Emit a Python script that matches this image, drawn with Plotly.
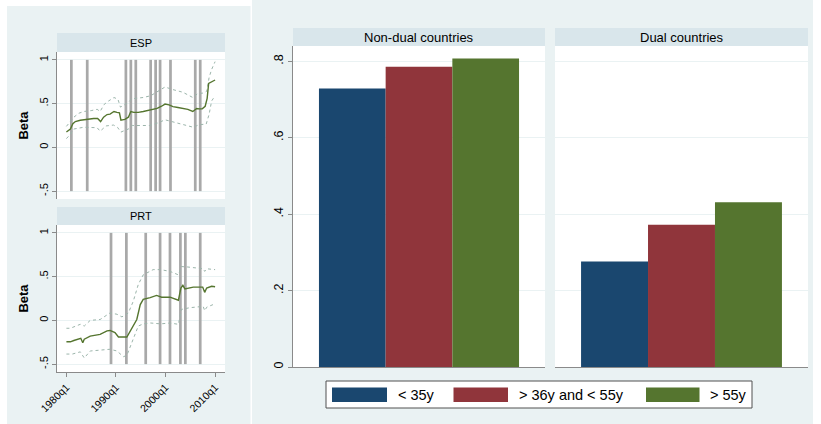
import plotly.graph_objects as go

W, H = 821, 424

# ---------------- data ----------------
# Spain: rolling beta and its confidence band (time in fractional years)
esp_beta_t = [1980.0, 1980.8, 1981.3, 1981.8, 1982.8, 1984.0, 1985.5, 1986.3, 1986.9, 1987.5,
              1988.2, 1988.8, 1989.6, 1990.2, 1990.7, 1991.0, 1991.8, 1992.5, 1993.0, 1993.6,
              1994.5, 1995.5, 1996.5, 1997.5, 1998.3, 1999.2, 1999.9, 2000.7, 2001.5, 2002.5,
              2003.5, 2004.5, 2005.5, 2006.3, 2006.8, 2007.4, 2008.0, 2008.4, 2008.7, 2009.2,
              2009.6, 2010.0]
esp_beta = [0.175, 0.21, 0.27, 0.295, 0.31, 0.32, 0.33, 0.33, 0.295, 0.345,
            0.375, 0.38, 0.41, 0.40, 0.395, 0.31, 0.32, 0.345, 0.41, 0.40,
            0.40, 0.41, 0.42, 0.43, 0.445, 0.47, 0.495, 0.485, 0.465, 0.455,
            0.445, 0.435, 0.41, 0.445, 0.44, 0.44, 0.47, 0.56, 0.73, 0.745,
            0.76, 0.77]
esp_hi_t = [1980.0, 1980.8, 1981.5, 1982.5, 1983.5, 1985.0, 1986.2, 1986.8, 1987.6, 1988.5,
            1989.6, 1990.4, 1990.9, 1991.8, 1992.6, 1993.2, 1994.5, 1995.5, 1997.0, 1998.2,
            1999.9, 2001.5, 2003.5, 2005.5, 2006.5, 2007.5, 2008.3, 2008.8, 2009.3, 2010.0]
esp_hi = [0.24, 0.29, 0.345, 0.39, 0.41, 0.42, 0.435, 0.41, 0.49, 0.53,
          0.57, 0.55, 0.46, 0.49, 0.52, 0.555, 0.56, 0.57, 0.59, 0.63,
          0.69, 0.66, 0.63, 0.57, 0.615, 0.62, 0.64, 0.80, 0.89, 0.98]
esp_lo_t = [1980.0, 1980.8, 1981.5, 1983.5, 1986.2, 1986.8, 1988.0, 1989.5, 1990.3, 1991.0,
            1992.5, 1993.3, 1996.8, 1998.5, 1999.9, 2001.5, 2005.6, 2006.8, 2008.2, 2008.8,
            2009.3, 2010.0]
esp_lo = [0.10, 0.15, 0.21, 0.23, 0.225, 0.185, 0.245, 0.255, 0.23, 0.175,
          0.21, 0.25, 0.25, 0.28, 0.315, 0.29, 0.23, 0.26, 0.265, 0.38,
          0.53, 0.59]
esp_events = [1981.0, 1984.2, 1992.0, 1993.0, 1994.0, 1997.0, 1998.0, 1998.9, 2001.0, 2006.0, 2007.0]

# Portugal
prt_beta_t = [1980.0, 1980.8, 1981.5, 1982.2, 1982.9, 1983.3, 1983.6, 1984.8, 1986.8, 1988.2,
              1988.8, 1989.8, 1990.5, 1992.2, 1993.2, 1994.2, 1994.9, 1995.5, 1996.9, 1998.2,
              1999.2, 2000.9, 2002.6, 2003.1, 2003.5, 2003.9, 2005.6, 2007.5, 2007.9, 2008.3,
              2009.3, 2010.0]
prt_beta = [-0.245, -0.245, -0.23, -0.215, -0.205, -0.255, -0.215, -0.18, -0.16, -0.12,
            -0.115, -0.14, -0.19, -0.19, -0.085, 0.01, 0.18, 0.24, 0.26, 0.285,
            0.265, 0.265, 0.23, 0.37, 0.40, 0.36, 0.38, 0.38, 0.32, 0.37,
            0.39, 0.385]
prt_hi_t = [1980.0, 1980.8, 1982.8, 1983.6, 1984.8, 1986.8, 1988.8, 1990.2, 1991.2, 1992.5,
            1993.5, 1994.5, 1995.5, 1997.5, 1999.0, 2000.9, 2002.6, 2003.2, 2004.5, 2007.6,
            2007.9, 2008.3, 2010.0]
prt_hi = [-0.09, -0.09, -0.045, -0.065, 0.0, 0.01, 0.085, 0.07, 0.04, 0.085,
          0.22, 0.41, 0.52, 0.58, 0.58, 0.56, 0.52, 0.615, 0.61, 0.59,
          0.56, 0.59, 0.58]
prt_lo_t = [1980.0, 1981.2, 1982.8, 1983.6, 1984.8, 1986.8, 1988.8, 1990.2, 1991.5, 1992.2,
            1993.5, 1994.5, 1995.5, 1997.0, 1999.0, 2000.9, 2002.6, 2003.2, 2004.9, 2007.6,
            2007.9, 2008.3, 2010.0]
prt_lo = [-0.385, -0.385, -0.36, -0.43, -0.35, -0.34, -0.33, -0.35, -0.415, -0.40,
          -0.20, -0.065, -0.04, -0.03, -0.04, -0.03, -0.045, 0.125, 0.145, 0.16,
          0.11, 0.15, 0.19]
prt_events = [1989.0, 1992.1, 1996.0, 1998.9, 2000.9, 2003.0, 2004.0, 2007.0]

ts_ticks = [1980, 1990, 2000, 2010]
ts_ticktext = ["1980q1", "1990q1", "2000q1", "2010q1"]
beta_ticks = [-0.5, 0, 0.5, 1]
beta_ticktext = ["-.5", "0", ".5", "1"]

# Bar chart: beta by age group
panels = ["Non-dual countries", "Dual countries"]
age_groups = ["< 35y", "> 36y and < 55y", "> 55y"]
nondual_beta = [0.729, 0.786, 0.807]
dual_beta = [0.276, 0.372, 0.431]
bar_ticks = [0, 0.2, 0.4, 0.6, 0.8]
bar_ticktext = ["0", ".2", ".4", ".6", ".8"]

# ---------------- styling ----------------
FONT = "Liberation Sans, Arial, Helvetica, sans-serif"
BG = "#eaf2f3"
STRIP = "#d9e6eb"
GRID = "#eaf2f3"
AXIS = "#8a8a8a"
AGE_COLORS = ["#1a476f", "#90353b", "#55752f"]
LINE_GREEN = "#55752f"
CI_COLOR = "#9cb5ab"
EVENT_GRAY = "#a9a9a9"


def fx(p):
    return p / W


def fy(p):
    return 1 - p / H


fig = go.Figure()

# --- time series panels ---
for ax, (events, bt, b, ht, h, lt, l) in zip(
    ["", "2"],
    [(esp_events, esp_beta_t, esp_beta, esp_hi_t, esp_hi, esp_lo_t, esp_lo),
     (prt_events, prt_beta_t, prt_beta, prt_hi_t, prt_hi, prt_lo_t, prt_lo)]):
    xa, ya = "x" + ax, "y" + ax
    fig.add_trace(go.Bar(x=events, y=[1.5] * len(events), base=-0.5, width=0.55,
                         marker=dict(color=EVENT_GRAY, line=dict(width=0)),
                         xaxis=xa, yaxis=ya, showlegend=False, hoverinfo="skip"))
    for t, v in [(ht, h), (lt, l)]:
        fig.add_trace(go.Scatter(x=t, y=v, mode="lines", xaxis=xa, yaxis=ya,
                                 line=dict(color=CI_COLOR, width=1, dash="dot"),
                                 showlegend=False))
    fig.add_trace(go.Scatter(x=bt, y=b, mode="lines", xaxis=xa, yaxis=ya,
                             line=dict(color=LINE_GREEN, width=1.4),
                             showlegend=False))

# --- bar panels ---
for ax, panel, vals in [("3", panels[0], nondual_beta), ("4", panels[1], dual_beta)]:
    for name, v, c in zip(age_groups, vals, AGE_COLORS):
        fig.add_trace(go.Bar(x=[panel], y=[v], name=name, xaxis="x" + ax, yaxis="y" + ax,
                             marker=dict(color=c, line=dict(width=0)),
                             showlegend=False))

ts_x_range = [1978.1, 2012.0]
beta_range = [-0.59, 1.09]
tick_font = dict(family=FONT, size=11, color="#000000")

common_ts_y = dict(range=beta_range, tickvals=beta_ticks, ticktext=beta_ticktext,
                   tickangle=-90, ticks="outside", ticklen=4, tickcolor=AXIS,
                   showline=True, linecolor=AXIS, linewidth=1,
                   showgrid=True, gridcolor=GRID, gridwidth=1, zeroline=False,
                   tickfont=tick_font, automargin=False,
                   title=dict(text="<b>Beta</b>", font=dict(family=FONT, size=13, color="#000"),
                              standoff=6))

fig.update_layout(
    width=W, height=H, margin=dict(l=0, r=0, t=0, b=0),
    paper_bgcolor="white", plot_bgcolor="white",
    barmode="group", bargap=0.206, bargroupgap=0,
    showlegend=False, font=dict(family=FONT, color="#000"),
    xaxis=dict(domain=[fx(57), fx(225)], range=ts_x_range, anchor="y",
               showticklabels=False, ticks="", showline=False, showgrid=False,
               zeroline=False, automargin=False),
    yaxis=dict(domain=[fy(199), fy(52)], anchor="x", **common_ts_y),
    xaxis2=dict(domain=[fx(57), fx(225)], range=ts_x_range, anchor="y2",
                tickvals=ts_ticks, ticktext=ts_ticktext, tickangle=-45,
                ticks="outside", ticklen=4, tickcolor=AXIS,
                showline=True, linecolor=AXIS, linewidth=1,
                showgrid=False, zeroline=False, tickfont=dict(family=FONT, size=10.5, color="#000"),
                automargin=False),
    yaxis2=dict(domain=[fy(372), fy(225)], anchor="x2", **common_ts_y),
    xaxis3=dict(domain=[fx(293), fx(545)], anchor="y3", showticklabels=False, ticks="",
                showline=True, linecolor=AXIS, linewidth=1.2, showgrid=False,
                automargin=False),
    yaxis3=dict(domain=[fy(367), fy(46)], anchor="x3", range=[0, 0.84],
                tickvals=bar_ticks, ticktext=bar_ticktext, tickangle=-90,
                ticks="outside", ticklen=4, tickcolor=AXIS,
                showline=True, linecolor=AXIS, linewidth=1.2,
                showgrid=True, gridcolor=GRID, zeroline=False,
                tickfont=dict(family=FONT, size=12.5, color="#000"), automargin=False),
    xaxis4=dict(domain=[fx(555), fx(808)], anchor="y4", showticklabels=False, ticks="",
                showline=True, linecolor=AXIS, linewidth=1.2, showgrid=False,
                automargin=False),
    yaxis4=dict(domain=[fy(367), fy(46)], anchor="x4", range=[0, 0.84],
                tickvals=bar_ticks, showticklabels=False, ticks="",
                showline=False, showgrid=True, gridcolor=GRID, zeroline=False,
                automargin=False),
)

shapes = []
# graph regions (light background)
shapes.append(dict(type="rect", xref="paper", yref="paper", x0=fx(7), x1=fx(250.5),
                   y0=fy(424), y1=fy(6), fillcolor=BG, line=dict(width=0), layer="below"))
shapes.append(dict(type="rect", xref="paper", yref="paper", x0=fx(252), x1=fx(813),
                   y0=fy(424), y1=fy(0), fillcolor=BG, line=dict(width=0), layer="below"))
# white plot regions
for ax in ["", "2", "3", "4"]:
    shapes.append(dict(type="rect", xref="x" + ax + " domain", yref="y" + ax + " domain",
                       x0=0, x1=1, y0=0, y1=1, fillcolor="white", line=dict(width=0),
                       layer="below"))

annotations = []
# panel title strips
strips = [
    (57, 225, 33, 52, "ESP", 11),
    (57, 225, 207, 225, "PRT", 11),
    (293, 545, 28, 46, panels[0], 13),
    (555, 808, 28, 46, panels[1], 13),
]
for x0, x1, y0, y1, text, size in strips:
    shapes.append(dict(type="rect", xref="paper", yref="paper", x0=fx(x0), x1=fx(x1),
                       y0=fy(y1), y1=fy(y0), fillcolor=STRIP, line=dict(width=0),
                       layer="below"))
    annotations.append(dict(xref="paper", yref="paper", x=fx((x0 + x1) / 2),
                            y=fy((y0 + y1) / 2), text=text, showarrow=False,
                            xanchor="center", yanchor="middle",
                            font=dict(family=FONT, size=size, color="#000")))

# legend box for age groups
shapes.append(dict(type="rect", xref="paper", yref="paper", x0=fx(326), x1=fx(752),
                   y0=fy(408), y1=fy(381), fillcolor="white",
                   line=dict(color="#505050", width=1)))
legend_items = [(332, 387, 396), (453.5, 508, 517), (646, 699.5, 708)]
for (s0, s1, tx), name, c in zip(legend_items, age_groups, AGE_COLORS):
    shapes.append(dict(type="rect", xref="paper", yref="paper", x0=fx(s0), x1=fx(s1),
                       y0=fy(402), y1=fy(387.5), fillcolor=c, line=dict(width=0)))
    annotations.append(dict(xref="paper", yref="paper", x=fx(tx), y=fy(394.5),
                            text=name, showarrow=False, xanchor="left", yanchor="middle",
                            font=dict(family=FONT, size=14.5, color="#000")))

fig.update_layout(shapes=shapes, annotations=annotations)

fig.write_html("out.html")
